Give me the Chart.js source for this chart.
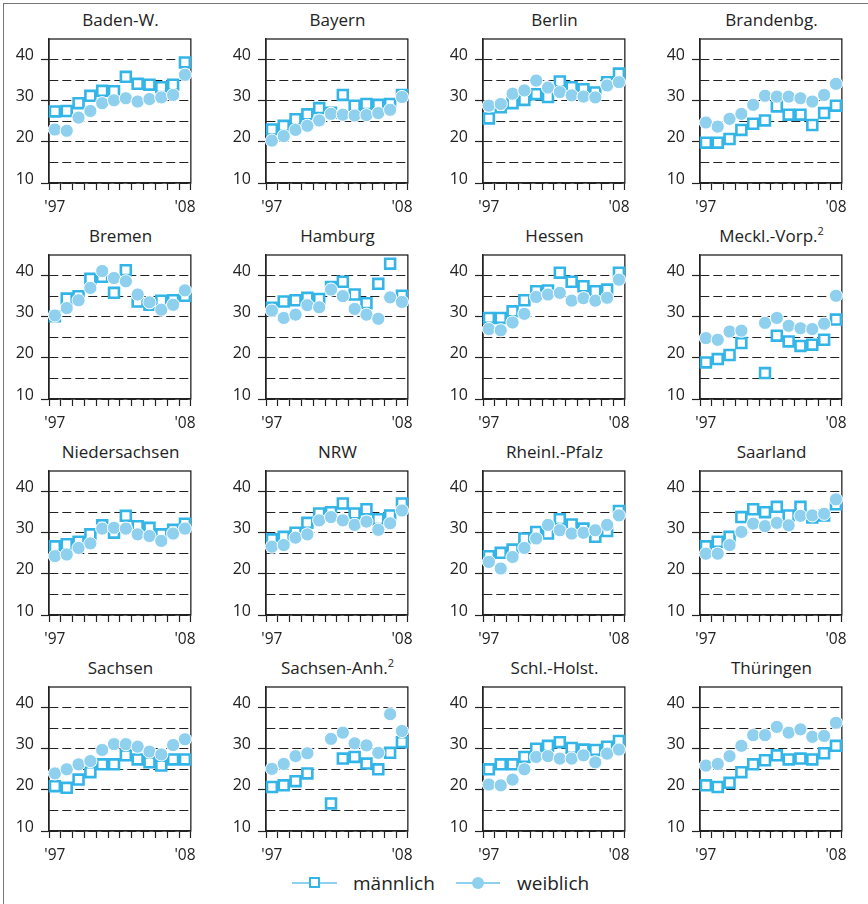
<!DOCTYPE html>
<html lang="de">
<head>
<meta charset="utf-8">
<script src="https://cdn.jsdelivr.net/npm/chart.js@4.4.1/dist/chart.umd.min.js"></script>
<style>
  body { margin: 0; background: #fff; font-family: 'Open Sans', sans-serif; color: #222; }
  #wrap { position: relative; width: 868px; height: 904px; overflow: hidden; background: #fff; }
  #rahmen { position: absolute; left: 3px; top: 3px; width: 950px; height: 950px;
            border-left: 1px solid #777; border-top: 1px solid #777; }
  canvas { position: absolute; }
  .titel { position: absolute; width: 200px; text-align: center; font-size: 17px; line-height: 22px; white-space: nowrap; }
  .titel sup { font-size: 11px; vertical-align: 7px; line-height: 0; }
  .leg-linha { position: absolute; top: 882px; height: 1.5px; background: #8fd0ef; }
  .leg-quad { position: absolute; top: 877px; width: 7px; height: 7px; border: 2.5px solid #33b5e8; background: #fff; }
  .leg-bola { position: absolute; top: 877px; width: 12px; height: 12px; border-radius: 50%; background: #8fd0ef; }
  .leg-txt { position: absolute; top: 870px; font-size: 19px; line-height: 26px; }
</style>
</head>
<body>
<div id="wrap">
  <div id="rahmen"></div>
  <div class="leg-linha" style="left:292px;width:45px"></div>
  <div class="leg-quad" style="left:309px"></div>
  <span class="leg-txt" style="left:353px">männlich</span>
  <div class="leg-linha" style="left:456px;width:44px"></div>
  <div class="leg-bola" style="left:472px"></div>
  <span class="leg-txt" style="left:517px">weiblich</span>
</div>
<script>
// anos 1997..2008
const anos = ['1997', '1998', '1999', '2000', '2001', '2002', '2003', '2004', '2005', '2006', '2007', '2008'];
const yTicks = [10, 15, 20, 25, 30, 35, 40];

// valores (M = männlich, W = weiblich)
const badenM = [27.4, 27.5, 29.4, 31.2, 32.4, 32.3, 35.8, 34.1, 33.9, 33.3, 33.9, 39.3];
const badenW = [23.0, 22.7, 25.9, 27.5, 29.4, 30.1, 30.6, 29.8, 30.4, 30.8, 31.4, 36.3];
const bayernM = [23.0, 23.9, 25.5, 26.7, 28.2, 27.1, 31.4, 28.8, 29.2, 29.0, 29.2, 31.4];
const bayernW = [20.3, 21.4, 22.9, 23.9, 25.2, 26.8, 26.6, 26.4, 26.5, 27.0, 27.8, 30.9];
const berlinM = [25.7, 28.4, 29.4, 30.2, 31.6, 30.9, 34.7, 33.3, 32.8, 32.0, 34.5, 36.6];
const berlinW = [28.8, 29.2, 31.7, 32.5, 34.9, 33.2, 32.1, 31.3, 31.0, 30.8, 33.7, 34.5];
const brandM = [19.8, 19.8, 20.7, 22.9, 24.4, 25.2, 28.6, 26.6, 26.6, 24.1, 27.0, 28.8];
const brandW = [24.7, 23.7, 25.6, 26.8, 29.0, 31.2, 31.0, 31.0, 30.6, 29.8, 31.4, 34.1];
const bremenM = [30.1, 34.4, 35.0, 39.2, 39.7, 35.8, 41.3, 33.7, 32.9, 33.9, 34.0, 35.1];
const bremenW = [30.3, 32.1, 34.0, 37.0, 41.1, 39.4, 38.6, 35.4, 33.5, 31.7, 32.9, 36.4];
const hamburgM = [32.2, 33.7, 34.0, 34.6, 34.3, 37.2, 38.5, 35.4, 33.3, 38.0, 42.9, 35.1];
const hamburgW = [31.5, 29.7, 30.5, 32.8, 32.3, 36.6, 35.0, 31.9, 30.5, 29.5, 34.7, 33.6];
const hessenM = [29.7, 29.7, 31.3, 34.0, 36.2, 36.4, 40.7, 38.5, 37.4, 36.2, 36.6, 40.7];
const hessenW = [27.0, 26.7, 28.6, 30.7, 34.8, 35.4, 35.8, 33.9, 34.5, 33.9, 34.6, 39.0];
const mvM = [18.9, 19.7, 20.7, 23.6, null, 16.3, 25.4, 24.0, 22.9, 23.2, 24.4, 29.3];
const mvW = [24.8, 24.4, 26.4, 26.6, null, 28.5, 29.7, 27.8, 27.2, 27.0, 28.3, 35.1];
const niedersM = [26.7, 27.2, 27.8, 29.6, 31.8, 30.0, 34.1, 31.6, 31.2, 29.6, 30.7, 32.2];
const niedersW = [24.3, 24.7, 26.3, 27.4, 31.0, 31.2, 31.0, 29.6, 29.2, 28.0, 29.8, 31.0];
const nrwM = [28.4, 29.0, 30.0, 32.4, 34.7, 35.0, 37.1, 34.7, 35.7, 33.3, 34.2, 37.1];
const nrwW = [26.6, 27.0, 28.8, 29.6, 33.0, 33.8, 33.0, 31.9, 32.7, 30.7, 32.3, 35.4];
const rlpM = [24.3, 25.1, 25.9, 28.6, 30.2, 29.8, 33.3, 32.0, 31.0, 29.0, 30.4, 35.3];
const rlpW = [22.9, 21.3, 24.1, 26.3, 28.6, 31.9, 30.6, 29.8, 30.0, 30.6, 31.9, 34.2];
const saarM = [26.7, 27.8, 29.0, 33.8, 35.7, 35.0, 36.3, 34.2, 36.3, 33.7, 34.2, 36.9];
const saarW = [24.9, 24.9, 27.0, 30.2, 32.2, 31.6, 32.4, 31.8, 34.1, 34.2, 34.6, 38.1];
const sachsenM = [20.9, 20.5, 22.5, 24.3, 26.2, 26.2, 28.4, 27.4, 26.7, 25.9, 27.4, 27.4];
const sachsenW = [24.0, 25.0, 26.2, 27.0, 29.7, 31.1, 31.1, 30.5, 29.3, 28.6, 30.9, 32.3];
const saM = [20.7, 21.1, 22.1, 24.0, null, 16.7, 27.6, 28.0, 26.4, 25.0, 29.0, 31.6];
const saW = [25.1, 26.3, 28.2, 28.9, null, 32.4, 33.9, 31.3, 30.8, 29.0, 38.4, 34.3];
const shM = [25.0, 26.2, 26.2, 28.0, 30.0, 30.7, 31.6, 30.2, 29.8, 29.7, 30.5, 31.9];
const shW = [21.3, 21.1, 22.5, 25.0, 28.0, 28.2, 27.6, 27.6, 28.4, 26.7, 28.8, 29.8];
const thurM = [21.1, 20.7, 21.7, 24.3, 26.2, 27.2, 28.4, 27.4, 27.6, 27.4, 28.9, 30.7];
const thurW = [25.9, 26.3, 28.2, 30.7, 33.3, 33.3, 35.3, 33.9, 34.7, 32.9, 33.1, 36.3];

const laender = [
  ['Baden-W.', '', badenM, badenW],
  ['Bayern', '', bayernM, bayernW],
  ['Berlin', '', berlinM, berlinW],
  ['Brandenbg.', '', brandM, brandW],
  ['Bremen', '', bremenM, bremenW],
  ['Hamburg', '', hamburgM, hamburgW],
  ['Hessen', '', hessenM, hessenW],
  ['Meckl.-Vorp.', '2', mvM, mvW],
  ['Niedersachsen', '', niedersM, niedersW],
  ['NRW', '', nrwM, nrwW],
  ['Rheinl.-Pfalz', '', rlpM, rlpW],
  ['Saarland', '', saarM, saarW],
  ['Sachsen', '', sachsenM, sachsenW],
  ['Sachsen-Anh.', '2', saM, saW],
  ['Schl.-Holst.', '', shM, shW],
  ['Thüringen', '', thurM, thurW],
];

// geometria dos painéis
const PLOT_X = [49, 266, 483, 700];
const PLOT_Y = [39, 255, 471, 687];
const PLOT_W = 143, PLOT_H = 144;
const Y_AXIS_W = 46, PAD_TOP = 39, PAD_RIGHT = 12;
const X_AXIS_H = 36;

const COR_M = '#33b5e8';
const COR_W = '#8fd0ef';
const ESCURO = '#222';

// moldura em volta da área do gráfico
const moldura = {
  id: 'moldura',
  beforeDatasetsDraw(chart) {
    const a = chart.chartArea;
    const ctx = chart.ctx;
    ctx.save();
    ctx.strokeStyle = ESCURO;
    ctx.lineWidth = 1.3;
    ctx.strokeRect(a.left, a.top, a.right - a.left, a.bottom - a.top);
    ctx.restore();
  }
};

function criaPainel(idx, nome, sup, masc, fem) {
  const wrap = document.getElementById('wrap');
  const col = idx % 4;
  const lin = Math.floor(idx / 4);

  const titulo = document.createElement('div');
  titulo.className = 'titel';
  titulo.style.left = (PLOT_X[col] + PLOT_W / 2 - 100) + 'px';
  titulo.style.top = (PLOT_Y[lin] - 30) + 'px';
  titulo.textContent = nome;
  if (sup) {
    const s = document.createElement('sup');
    s.textContent = sup;
    titulo.appendChild(s);
  }
  wrap.appendChild(titulo);

  const canvas = document.createElement('canvas');
  canvas.width = Y_AXIS_W + PLOT_W + PAD_RIGHT;
  canvas.height = PAD_TOP + PLOT_H + X_AXIS_H;
  canvas.style.left = (PLOT_X[col] - Y_AXIS_W) + 'px';
  canvas.style.top = (PLOT_Y[lin] - PAD_TOP) + 'px';
  wrap.appendChild(canvas);

  new Chart(canvas, {
    type: 'line',
    data: {
      labels: anos,
      datasets: [
        {
          label: 'männlich',
          data: masc,
          showLine: false,
          pointStyle: 'rect',
          pointRadius: 7,
          borderWidth: 2.6,
          pointBorderWidth: 2.6,
          borderColor: COR_M,
          pointBorderColor: COR_M,
          pointBackgroundColor: '#fff',
          order: 1,
          clip: false,
        },
        {
          label: 'weiblich',
          data: fem,
          showLine: false,
          pointStyle: 'circle',
          pointRadius: 6.6,
          pointBorderWidth: 1,
          pointBorderColor: '#fff',
          pointBackgroundColor: COR_W,
          borderColor: COR_W,
          order: 0,
          clip: false,
        }
      ]
    },
    options: {
      responsive: false,
      animation: false,
      events: [],
      layout: { padding: { top: PAD_TOP, right: PAD_RIGHT, left: 0, bottom: 0 } },
      plugins: {
        legend: { display: false },
        title: { display: false },
        tooltip: { enabled: false }
      },
      scales: {
        x: {
          type: 'category',
          offset: true,
          afterFit: s => { s.height = X_AXIS_H; },
          grid: {
            offset: true,
            drawOnChartArea: false,
            tickLength: 7,
            tickColor: ESCURO,
            tickWidth: 1.2,
          },
          border: { color: ESCURO, width: 1.3 },
          ticks: {
            autoSkip: false,
            maxRotation: 0,
            padding: 8,
            color: ESCURO,
            font: { family: "'Open Sans', sans-serif", size: 15.5 },
            callback: (v, i) => i === 0 ? "'97" : (i === anos.length - 1 ? "'08" : '')
          }
        },
        y: {
          min: 10,
          max: 45,
          afterFit: s => { s.width = Y_AXIS_W; },
          afterBuildTicks: s => { s.ticks = yTicks.map(v => ({ value: v })); },
          grid: {
            color: ESCURO,
            lineWidth: 1,
            tickLength: 8,
            tickBorderDash: [],
            tickColor: c => (c.tick && c.tick.value % 10 === 0) ? ESCURO : 'rgba(0,0,0,0)',
            tickWidth: 1.2,
          },
          border: { color: ESCURO, width: 1.3, dash: [9, 4] },
          ticks: {
            padding: 7,
            labelOffset: -4,
            color: ESCURO,
            font: { family: "'Open Sans', sans-serif", size: 16 },
            callback: v => v % 10 === 0 ? String(v) : ''
          }
        }
      }
    },
    plugins: [moldura]
  });
}

laender.forEach((l, i) => criaPainel(i, l[0], l[1], l[2], l[3]));
</script>
</body>
</html>
